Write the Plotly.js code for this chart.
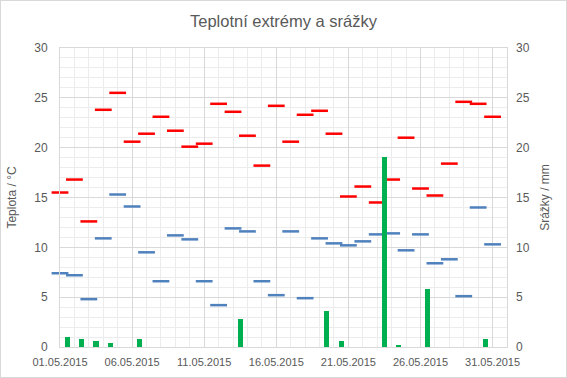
<!DOCTYPE html>
<html>
<head>
<meta charset="utf-8">
<script src="https://cdn.plot.ly/plotly-3.0.1.min.js"></script>
<style>
html,body{margin:0;padding:0;background:#fff;}
#chart{width:565px;height:376px;border:1px solid #d9d9d9;}
</style>
</head>
<body>
<div id="chart"></div>
<script>
const days = ['2015-05-01','2015-05-02','2015-05-03','2015-05-04','2015-05-05','2015-05-06','2015-05-07','2015-05-08','2015-05-09','2015-05-10',
'2015-05-11','2015-05-12','2015-05-13','2015-05-14','2015-05-15','2015-05-16','2015-05-17','2015-05-18','2015-05-19','2015-05-20',
'2015-05-21','2015-05-22','2015-05-23','2015-05-24','2015-05-25','2015-05-26','2015-05-27','2015-05-28','2015-05-29','2015-05-30','2015-05-31'];
const tMax = [15.5,16.8,12.6,23.8,25.5,20.6,21.4,23.1,21.7,20.1,20.4,24.4,23.6,21.2,18.2,24.2,20.6,23.3,23.7,21.4,15.1,16.1,14.5,16.8,21.0,15.9,15.2,18.4,24.6,24.4,23.1];
const tMin = [7.4,7.2,4.8,10.9,15.3,14.1,9.5,6.6,11.2,10.8,6.6,4.2,11.9,11.6,6.6,5.2,11.6,4.9,10.9,10.4,10.2,10.6,11.3,11.4,9.7,11.3,8.4,8.8,5.1,14.0,10.3];
const precip = [1.0,0.8,0.6,0.4,0,0.8,0,0,0,0,0,0,2.8,0,0,0,0,0,3.6,0.6,0,0,19.1,0.2,0,5.8,0,0,0,0.8,0];
const yTicks = [0,5,10,15,20,25,30];

const DAY = 86400000;
const txt = '#595959';
const fnt = 'Liberation Sans, Arial, sans-serif';

const traces = [
  {x: days, y: precip, type: 'bar', yaxis: 'y2', xperiod: DAY, xperiodalignment: 'middle',
   width: 0.36*DAY, marker: {color: '#00B050'}, hoverinfo: 'skip'},
  {x: days, y: tMax, type: 'scatter', mode: 'markers', cliponaxis: false,
   marker: {symbol: 'line-ew', size: 12, line: {color: '#FF0000', width: 2.5}}, hoverinfo: 'skip'},
  {x: days, y: tMin, type: 'scatter', mode: 'markers', cliponaxis: false,
   marker: {symbol: 'line-ew', size: 12, line: {color: '#4F81BD', width: 2.5}}, hoverinfo: 'skip'}
];

const layout = {
  width: 565, height: 376,
  margin: {l: 59, r: 59, t: 47, b: 30},
  paper_bgcolor: '#fff', plot_bgcolor: '#fff',
  showlegend: false,
  bargap: 0,
  title: {text: 'Teplotní extrémy a srážky', font: {family: fnt, size: 16.5, color: txt},
          x: 0.5, xanchor: 'center', y: 0.945, yanchor: 'middle', yref: 'container'},
  xaxis: {type: 'date', range: ['2015-05-01', '2015-06-01'], tick0: '2015-05-01', dtick: 5*DAY,
          tickformat: '%d.%m.%Y', ticks: '', ticklabelstandoff: 5, showgrid: true, gridcolor: '#d9d9d9', gridwidth: 1,
          minor: {dtick: DAY, tick0: '2015-05-01', showgrid: true, gridcolor: '#ececec', gridwidth: 1},
          showline: true, mirror: true, linecolor: '#d9d9d9', linewidth: 1, zeroline: false,
          tickfont: {family: fnt, size: 11, color: txt}},
  yaxis: {range: [0, 30], tickvals: yTicks, ticktext: yTicks.map(String), ticks: '', ticklabelstandoff: 9,
          showgrid: true, gridcolor: '#d9d9d9',
          minor: {dtick: 1, showgrid: true, gridcolor: '#ececec'},
          showline: true, mirror: true, linecolor: '#d9d9d9', zeroline: false,
          tickfont: {family: fnt, size: 12, color: txt},
          title: {text: 'Teplota / °C', font: {family: fnt, size: 12, color: txt}, standoff: 15}},
  yaxis2: {range: [0, 30], tickvals: yTicks, ticktext: yTicks.map(String), overlaying: 'y', side: 'right',
           showgrid: false, zeroline: false, ticks: '', ticklabelstandoff: 8,
           tickfont: {family: fnt, size: 12, color: txt},
           title: {text: 'Srážky / mm', font: {family: fnt, size: 12, color: txt}, standoff: 11}}
};

Plotly.newPlot('chart', traces, layout, {displayModeBar: false, staticPlot: true});
</script>
</body>
</html>
